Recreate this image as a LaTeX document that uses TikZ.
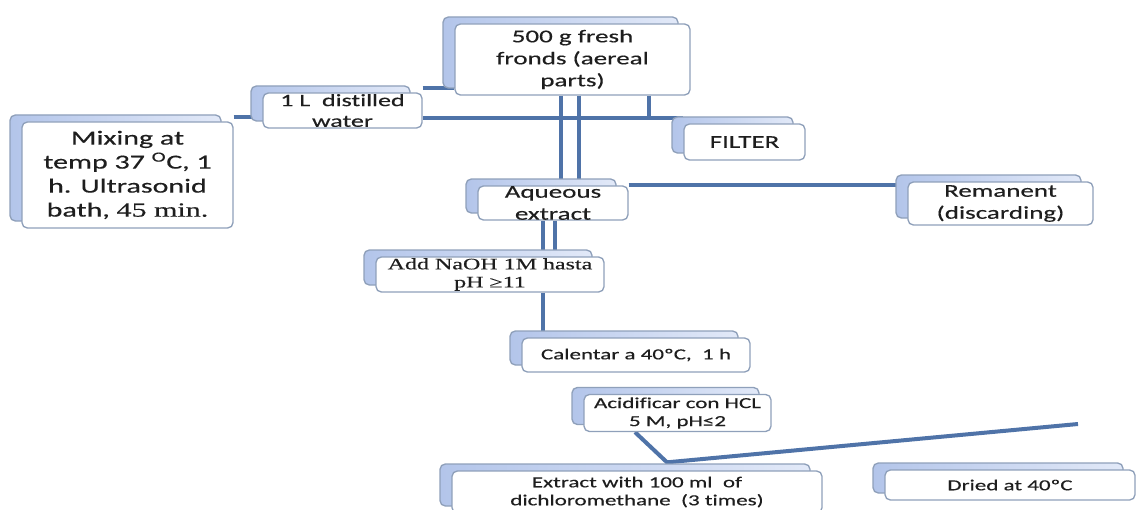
\documentclass[tikz,border=0pt]{standalone}
\usepackage{fontspec}
\setmainfont{Carlito}[FakeStretch=1.5, FakeBold=0.35, Ligatures=NoCommon]
\newfontfamily\timeswide{Liberation Serif}[FakeStretch=1.5, FakeBold=0.35]
\usetikzlibrary{calc}
\usetikzlibrary{shadows}
\usetikzlibrary{backgrounds}
\definecolor{flowline}{HTML}{4F73A8}
\definecolor{boxline}{HTML}{8FA0BA}
\definecolor{shadeleft}{HTML}{B3C5EA}
\definecolor{shaderight}{HTML}{E2E9F8}
\definecolor{ink}{HTML}{1E1E1E}

\begin{document}
\begin{tikzpicture}[x=0.75pt, y=-0.75pt]

    \def\pxl{0.75pt}

    % boxes with the offset copy behind them
    \tikzset{
        box/.style={draw=boxline, fill=white, line width=1pt,
            rounded corners=4pt, align=center, inner sep=0pt, text=ink,
            copy shadow={shadow xshift=-9pt, shadow yshift=5.25pt,
                draw=boxline, left color=shadeleft, right color=shaderight}},
        big/.style={font=\fontsize{13.5}{16.5}\selectfont},
        small/.style={font=\fontsize{11.5}{13.5}\selectfont},
        flow/.style={color=flowline, line width=3pt},
    }

    \useasboundingbox (0,0) rectangle (1136,510);

    \node[box, big, minimum width=235*\pxl, minimum height=71*\pxl]
        (fronds) at (572.5,59.5) {500 g fresh\\fronds (aereal\\parts)};
    \node[box, font=\fontsize{13}{15.5}\selectfont,
        minimum width=159*\pxl, minimum height=35*\pxl]
        (water) at (342.5,110.5) {1 L\ \ distilled\\water};
    \node[box, big, minimum width=121*\pxl, minimum height=36*\pxl]
        (filter) at (744.5,142) {FILTER};
    \node[box, font=\fontsize{15}{18}\selectfont,
        minimum width=211*\pxl, minimum height=106*\pxl]
        (mixing) at (127.5,175)
        {Mixing at\\temp 37 \textsuperscript{O}C, 1\\h. Ultrasonid\\bath, {\timeswide 45 min.}};
    \node[box, big, minimum width=150*\pxl, minimum height=34*\pxl]
        (aqueous) at (553,203) {Aqueous\\extract};
    \node[box, big, minimum width=185*\pxl, minimum height=43*\pxl]
        (remanent) at (1000.5,203.5) {Remanent\\(discarding)};
    \node[box, font=\timeswide\fontsize{12}{13.5}\selectfont,
        minimum width=228*\pxl, minimum height=35*\pxl]
        (naoh) at (490,274.5) {Add NaOH 1M hasta\\pH ≥11};
    \node[box, small, minimum width=228*\pxl, minimum height=34*\pxl]
        (calentar) at (636,355) {Calentar a 40ºC,\ \ 1 h};
    \node[box, small, minimum width=187*\pxl, minimum height=37*\pxl]
        (acid) at (677.5,413) {Acidificar con HCL\\5 M, pH≤2};
    \node[box, small, minimum width=370*\pxl, minimum height=42*\pxl]
        (extract) at (637,492) {Extract with 100 ml\ \ of\\dichloromethane\ \ (3 times)};
    \node[box, small, minimum width=250*\pxl, minimum height=30*\pxl]
        (dried) at (1010,485) {Dried at 40ºC};

    \coordinate (tail) at (1078,424);

    \begin{scope}[on background layer]
        \fill[white] (0,0) rectangle (1136,510);
        \begin{scope}[flow]
            \draw ([yshift=3pt]mixing.north east)
                -- ([yshift=3pt]mixing.north east -| water.west);
            \draw ([yshift=3pt]water.north east)
                -- ([yshift=3pt]water.north east -| fronds.west);
            \draw ([yshift=-5.6pt]water.east)
                -- ([yshift=-5.6pt]water.east -| filter.west);
            \draw (fronds.south -| 561,0) -- (aqueous.north -| 561,0);
            \draw (fronds.south -| 579,0) -- (aqueous.north -| 579,0);
            \draw (fronds.south -| 649,0) -- ([yshift=-5.6pt]water.east -| 649,0);
            \draw (aqueous.north east) -- (aqueous.north east -| remanent.west);
            \draw (aqueous.south -| 543,0) -- (naoh.north -| 543,0);
            \draw (aqueous.south -| 555,0) -- (naoh.north -| 555,0);
            \draw (naoh.south -| 543,0) -- (calentar.north -| 543,0);
            \draw (acid.south -| 635,0) -- ([yshift=6pt]extract.north -| 667,0)
                -- (tail);
        \end{scope}
    \end{scope}

\end{tikzpicture}
\end{document}
